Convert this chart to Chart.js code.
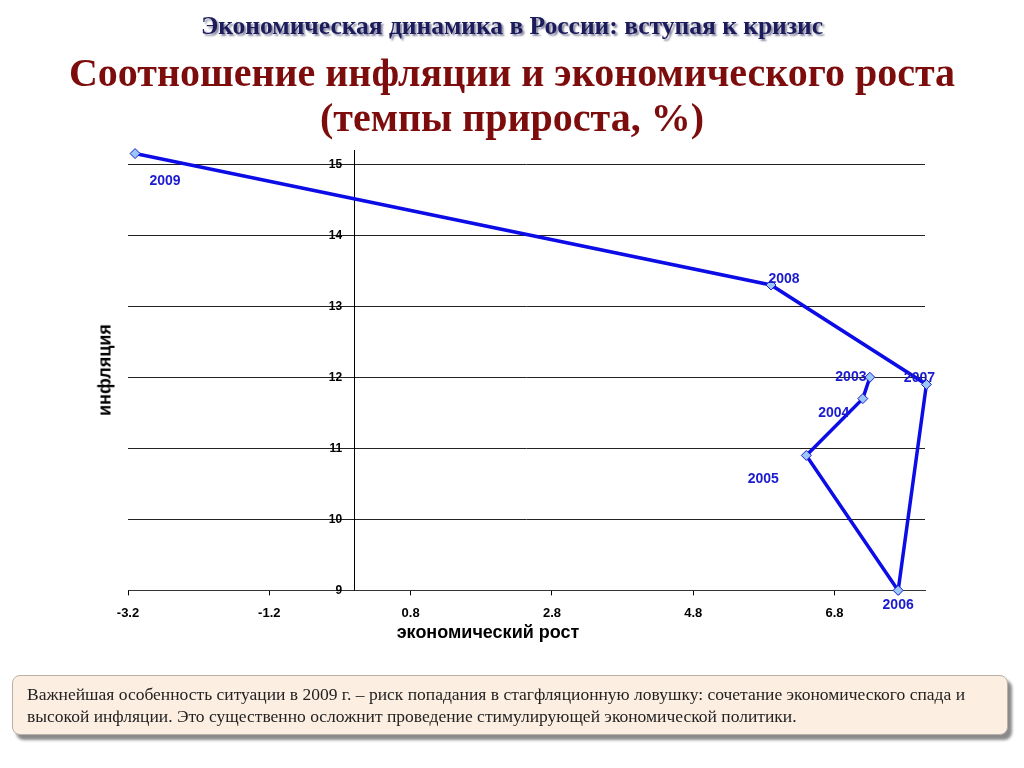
<!DOCTYPE html>
<html><head><meta charset="utf-8">
<script src="https://cdn.jsdelivr.net/npm/chart.js@4"></script>
<style>
body{margin:0;width:1024px;height:768px;background:#fff;position:relative;overflow:hidden;font-family:"Liberation Serif","Times New Roman",serif}
#c{position:absolute;left:0;top:0}
.t{position:absolute;left:0;width:1024px;text-align:center;font-weight:bold;white-space:nowrap;line-height:1}
#t1{top:13px;font-size:25.5px;color:#1c1c5c;text-shadow:2px 2px 2px #8888a0}
#t2{top:53px;font-size:40px;color:#7d0c0c}
#t3{top:98px;font-size:40px;color:#7d0c0c}
.ax{position:absolute;font-family:"Liberation Sans",Arial,sans-serif;font-weight:bold;color:#000;white-space:nowrap}
#ya{left:105px;top:370px;font-size:18px;transform:translate(-50%,-50%) rotate(-90deg)}
#xa{left:488px;top:632px;font-size:18px;transform:translate(-50%,-50%)}
#box{position:absolute;left:12px;top:675px;width:996px;height:60px;box-sizing:border-box;background:#fdeee2;border:1px solid #b8b0a8;border-radius:8px;box-shadow:4px 5px 3px #8a8a8a;padding:7px 14px;font-size:17.5px;line-height:22px;color:#222;white-space:nowrap}
</style></head><body>
<canvas id="c" width="1024" height="768"></canvas>
<div class="t" id="t1">Экономическая динамика в России: вступая к кризис</div>
<div class="t" id="t2">Соотношение инфляции и экономического роста</div>
<div class="t" id="t3">(темпы прироста, %)</div>
<div class="ax" id="ya">инфляция</div>
<div class="ax" id="xa">экономический рост</div>
<div id="box">Важнейшая особенность ситуации в 2009 г. – риск попадания в стагфляционную ловушку: сочетание экономического спада и<br>высокой инфляции. Это существенно осложнит проведение стимулирующей экономической политики.</div>
<script>
const years = ['2003','2004','2005','2006','2007','2008','2009'];
const growth = [7.3, 7.2, 6.4, 7.7, 8.1, 5.9, -3.1];
const inflation = [12.0, 11.7, 10.9, 9.0, 11.9, 13.3, 15.15];
const xTicks = [-3.2, -1.2, 0.8, 2.8, 4.8, 6.8];
const yTicks = [9, 10, 11, 12, 13, 14, 15];

// label placement (pixel offsets from each point), style only
const labelOffsets = [[-19,0],[-29,15],[-43,24],[0,15],[-7,-6],[13,-6],[30,28]];

const labelPlugin = {
  id:'yearLabels',
  afterDatasetsDraw(chart){
    const ctx = chart.ctx;
    const meta = chart.getDatasetMeta(0);
    ctx.save();
    ctx.font = 'bold 14px "Liberation Sans", Arial, sans-serif';
    ctx.fillStyle = '#1a1ad0';
    ctx.textAlign = 'center';
    ctx.textBaseline = 'middle';
    meta.data.forEach((el,i)=>{
      const o = labelOffsets[i];
      ctx.fillText(years[i], el.x + o[0], el.y + o[1]);
    });
    ctx.restore();
  }
};

new Chart(document.getElementById('c'), {
  type:'scatter',
  data:{datasets:[{
    data: growth.map((g,i)=>({x:g, y:inflation[i]})),
    showLine:true,
    borderColor:'#0c0ce6',
    borderWidth:3.5,
    tension:0,
    pointStyle:'rectRot',
    pointRadius:5,
    pointBackgroundColor:'#9cc8f8',
    pointBorderColor:'#1a1ad0',
    pointBorderWidth:1,
    clip:false
  }]},
  options:{
    responsive:false,
    animation:false,
    layout:{padding:{left:128,top:150,right:99,bottom:137}},
    plugins:{legend:{display:false},tooltip:{enabled:false},title:{display:false}},
    scales:{
      x:{
        type:'linear', min:-3.2, max:8.08,
        afterBuildTicks(s){ s.ticks = xTicks.map(v=>({value:v})); },
        grid:{display:true, drawOnChartArea:false, drawTicks:true, tickLength:5, color:'#000'},
        border:{color:'#333', width:1},
        ticks:{color:'#000', padding:10, maxRotation:0, autoSkip:false,
          font:{family:'"Liberation Sans", Arial, sans-serif', size:13, weight:'bold'},
          callback:(v)=>v.toFixed(1)}
      },
      y:{
        type:'linear', min:9, max:15.2, position:{x:0},
        afterBuildTicks(s){ s.ticks = yTicks.map(v=>({value:v})); },
        grid:{color:'#222', lineWidth:1, drawTicks:false},
        border:{color:'#000', width:1},
        ticks:{color:'#000', autoSkip:false,
          font:{family:'"Liberation Sans", Arial, sans-serif', size:12, weight:'bold'},
          callback:(v)=>String(v) + '\u2003'}
      }
    }
  },
  plugins:[labelPlugin]
});
</script>
</body></html>
